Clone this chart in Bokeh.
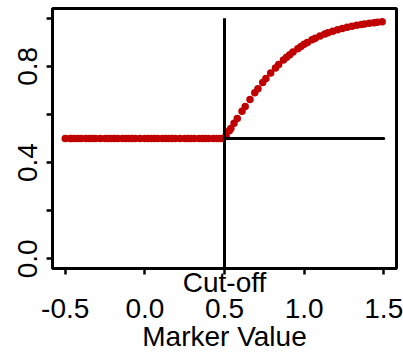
from bokeh.plotting import figure
from bokeh.models import Range1d, FixedTicker
from bokeh.embed import file_html
from bokeh.resources import INLINE

# flat part (below cut-off)
x_low = [-0.50, -0.47, -0.46, -0.44, -0.42, -0.40, -0.37, -0.35, -0.33, -0.31,
         -0.28, -0.25, -0.23, -0.21, -0.19, -0.17, -0.14, -0.12, -0.10, -0.08,
         -0.06, -0.03, 0.00, 0.02, 0.04, 0.06, 0.08, 0.11, 0.13, 0.15,
         0.17, 0.19, 0.22, 0.25, 0.27, 0.29, 0.31, 0.34, 0.36, 0.38,
         0.40, 0.43, 0.45, 0.47, 0.49]
y_low = [0.5] * len(x_low)

# rising part (above cut-off)
x_high = [0.51, 0.53, 0.54, 0.56, 0.58, 0.61, 0.63, 0.66, 0.69, 0.71,
          0.74, 0.76, 0.79, 0.82, 0.84, 0.87, 0.89, 0.91, 0.93, 0.96,
          0.98, 1.00, 1.02, 1.05, 1.07, 1.10, 1.13, 1.15, 1.18, 1.21,
          1.24, 1.27, 1.30, 1.33, 1.36, 1.38, 1.41, 1.44, 1.46, 1.49]
y_high = [0.511, 0.532, 0.542, 0.563, 0.583, 0.613, 0.633, 0.662, 0.690, 0.707,
          0.733, 0.749, 0.772, 0.793, 0.807, 0.826, 0.837, 0.848, 0.859, 0.873,
          0.882, 0.891, 0.899, 0.910, 0.916, 0.926, 0.934, 0.939, 0.946, 0.952,
          0.957, 0.962, 0.966, 0.970, 0.974, 0.976, 0.979, 0.981, 0.983, 0.985]

cutoff = 0.5
cutoff_text = "Cut-off"
vline_y = [-0.2, 1.0]
hline_x = [0.5, 1.5]
hline_y = [0.5, 0.5]

x_ticks = [-0.5, 0.0, 0.5, 1.0, 1.5]
x_tick_labels = ["-0.5", "0.0", "0.5", "1.0", "1.5"]
y_ticks = [0.0, 0.2, 0.4, 0.6, 0.8, 1.0]
y_tick_labels = ["0.0", "", "0.4", "", "0.8", ""]
x_title = "Marker Value"

FONT = "Liberation Sans"
RED = "#C00000"

p = figure(width=403, height=354, output_backend="svg", toolbar_location=None,
           x_range=Range1d(-0.58, 1.58), y_range=Range1d(-0.04, 1.04),
           min_border_left=52, min_border_right=7, min_border_top=8,
           min_border_bottom=86)
p.grid.visible = False
p.background_fill_color = "white"
p.border_fill_color = "white"
p.outline_line_color = "black"
p.outline_line_width = 3

p.scatter(x_low, y_low, size=7.5, color=RED, line_color=None)
p.scatter(x_high, y_high, size=7.5, color=RED, line_color=None)

p.line([cutoff, cutoff], vline_y, line_color="black", line_width=3)
p.line(hline_x, hline_y, line_color="black", line_width=3, line_cap="round")

for ax in (p.xaxis[0], p.yaxis[0]):
    ax.axis_line_color = None
    ax.major_tick_in = 0
    ax.major_tick_out = 6
    ax.major_tick_line_width = 2.5
    ax.major_tick_line_color = "black"
    ax.minor_tick_line_color = None
    ax.major_label_text_font = FONT
    ax.major_label_text_font_size = "28px"
    ax.major_label_text_color = "black"

# "Cut-off" sits on the line above the 0.5 tick label
x_overrides = {}
for t, l in zip(x_ticks, x_tick_labels):
    top = cutoff_text if t == cutoff else " "
    x_overrides[t] = top + "\n" + l
p.xaxis.ticker = FixedTicker(ticks=x_ticks)
p.xaxis.major_label_overrides = x_overrides
p.xaxis.major_label_text_line_height = 0.85
p.xaxis.major_label_standoff = -8
p.xaxis.axis_label = x_title
p.xaxis.axis_label_text_font = FONT
p.xaxis.axis_label_text_font_size = "28px"
p.xaxis.axis_label_text_font_style = "normal"
p.xaxis.axis_label_text_color = "black"
p.xaxis.axis_label_standoff = -6

p.yaxis.ticker = FixedTicker(ticks=y_ticks)
p.yaxis.major_label_overrides = {t: l for t, l in zip(y_ticks, y_tick_labels)}
p.yaxis.major_label_orientation = "vertical"
p.yaxis.major_label_standoff = 9

open("out.html", "w").write(file_html(p, INLINE))
